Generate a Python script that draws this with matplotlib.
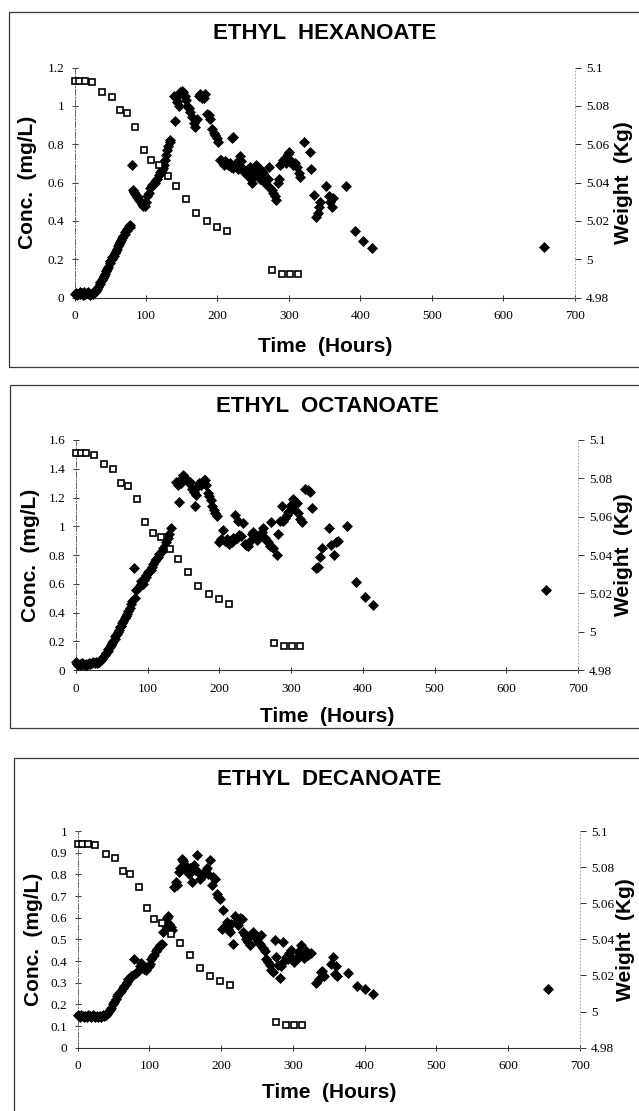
import matplotlib.pyplot as plt
from matplotlib.patches import Rectangle

#%% --- Data ---

# Ethyl hexanoate concentration (mg/L) vs time (hours)
hex_hours = [0, 2, 3, 5, 7, 8, 10, 12, 13, 15, 17, 19, 20, 22, 24, 26,
             28, 30, 31, 33, 35, 36, 38, 40, 41, 43, 44, 46, 47, 49, 50, 52, 53,
             55, 56, 58, 59, 61, 62, 64, 65, 67, 68, 70, 71, 73, 74, 76, 77, 78,
             80, 82, 83, 85, 87, 88, 90, 92, 94, 96, 98, 100, 102, 104, 106, 108,
             110, 112, 114, 116, 118, 120, 122, 124, 125, 127, 128, 130, 131, 133, 134,
             139, 141, 142, 144, 146, 148, 150, 152, 154, 156, 158, 160, 162, 164,
             167, 169, 172, 174, 176, 178, 181, 183, 185, 188, 190, 192, 195, 197,
             199, 201, 220, 222,
             203, 205, 207, 209, 211, 213, 215, 217, 219, 222, 224, 226, 229, 231,
             233, 235, 237, 239, 241, 243, 245, 247, 248, 250, 252, 254, 256, 258,
             260, 262, 264, 266, 268, 270, 272, 274, 276, 278, 280, 282, 284, 286,
             288, 290, 292, 294, 296, 298, 300, 302, 304, 306, 308, 311, 314, 316,
             321, 329, 331, 335, 338, 340, 342, 344, 352, 356, 358, 360, 362, 380,
             392, 403, 416, 657]
hex_conc = [0.02, 0.025, 0.015, 0.02, 0.03, 0.02, 0.025, 0.015, 0.03, 0.02, 0.025, 0.03, 0.02, 0.015, 0.025, 0.02,
            0.03, 0.035, 0.045, 0.055, 0.07, 0.08, 0.09, 0.10, 0.11, 0.125, 0.14, 0.15, 0.16, 0.18, 0.19, 0.2, 0.21,
            0.215, 0.23, 0.245, 0.255, 0.27, 0.28, 0.29, 0.30, 0.31, 0.32, 0.33, 0.34, 0.35, 0.36, 0.375, 0.38, 0.37,
            0.69, 0.56, 0.55, 0.54, 0.525, 0.53, 0.51, 0.505, 0.49, 0.48, 0.48, 0.5, 0.53, 0.545, 0.57, 0.585,
            0.59, 0.6, 0.615, 0.62, 0.64, 0.655, 0.665, 0.675, 0.69, 0.72, 0.745, 0.77, 0.79, 0.81, 0.82,
            1.05, 0.92, 1.04, 1.02, 1.0, 1.07, 1.08, 1.07, 1.05, 1.03, 1.0, 0.99, 0.97, 0.94,
            0.91, 0.89, 0.93, 1.05, 1.06, 1.04, 1.04, 1.06, 0.96, 0.95, 0.93, 0.88, 0.86, 0.85,
            0.83, 0.81, 0.83, 0.84,
            0.72, 0.72, 0.70, 0.69, 0.71, 0.70, 0.69, 0.70, 0.68, 0.675, 0.69, 0.70, 0.67, 0.74,
            0.71, 0.67, 0.665, 0.65, 0.64, 0.67, 0.68, 0.62, 0.60, 0.66, 0.65, 0.69, 0.68, 0.63,
            0.62, 0.66, 0.65, 0.60, 0.59, 0.62, 0.68, 0.57, 0.56, 0.545, 0.53, 0.51, 0.60, 0.62,
            0.69, 0.70, 0.72, 0.73, 0.70, 0.75, 0.76, 0.72, 0.70, 0.69, 0.70, 0.68, 0.65, 0.63,
            0.81, 0.76, 0.67, 0.535, 0.42, 0.44, 0.47, 0.50, 0.58, 0.53, 0.50, 0.47, 0.52, 0.58,
            0.345, 0.295, 0.26, 0.265]

# Ethyl octanoate
oct_hours = [0, 2, 3, 5, 7, 8, 10, 12, 14, 16, 18, 20, 22, 24, 26, 28, 30,
             32, 34, 36, 38, 40, 42, 44, 45, 47, 49, 50, 52, 54, 55, 57, 58, 60, 61,
             63, 64, 66, 68, 70, 71, 73, 75, 77, 78,
             81, 82, 84, 86, 88, 90, 91, 93, 95, 97, 98, 100, 102, 104, 106, 108,
             110, 112, 114, 116, 118, 120, 122, 124, 126, 128, 130, 132,
             140, 142, 143, 145, 147, 149, 151, 153, 155, 157, 159, 162, 164, 166,
             168, 170, 172, 174, 176, 178, 180, 182, 184, 186, 188, 190, 192, 194, 196,
             200, 202, 205, 208, 210, 212, 214, 217, 219, 222, 224, 226, 228, 230,
             233, 235, 237, 240, 242, 245, 247, 250, 252, 254, 257, 259, 261, 263,
             266, 268, 271, 272, 275, 280, 282, 285, 287, 289, 292, 294, 296, 299,
             301, 303, 305, 308, 310, 313, 315, 320, 324, 327, 329, 334, 337, 340,
             343, 353, 355, 360, 363, 366, 378, 390, 403, 414, 655]
oct_conc = [0.055, 0.045, 0.04, 0.045, 0.04, 0.05, 0.045, 0.04, 0.045, 0.04, 0.05, 0.045, 0.05, 0.055, 0.05, 0.055, 0.05,
            0.06, 0.065, 0.075, 0.09, 0.105, 0.12, 0.135, 0.145, 0.16, 0.175, 0.19, 0.2, 0.22, 0.24, 0.255, 0.265, 0.28, 0.3,
            0.31, 0.325, 0.34, 0.36, 0.38, 0.39, 0.41, 0.43, 0.46, 0.48,
            0.71, 0.5, 0.56, 0.57, 0.58, 0.6, 0.62, 0.60, 0.63, 0.65, 0.66, 0.68, 0.69, 0.70, 0.72, 0.74,
            0.76, 0.77, 0.79, 0.81, 0.82, 0.83, 0.85, 0.86, 0.89, 0.92, 0.95, 0.99,
            1.31, 1.29, 1.17, 1.32, 1.30, 1.36, 1.34, 1.33, 1.32, 1.30, 1.31, 1.26, 1.24, 1.14,
            1.22, 1.28, 1.30, 1.29, 1.31, 1.32, 1.32, 1.29, 1.23, 1.21, 1.18, 1.14, 1.11, 1.09, 1.07,
            0.89, 0.91, 0.975, 0.90, 0.91, 0.89, 0.88, 0.89, 0.92, 1.08, 0.92, 1.04, 0.94, 0.93,
            1.02, 0.88, 0.87, 0.86, 0.90, 0.95, 0.96, 0.94, 0.905, 0.92, 0.94, 0.96, 0.99, 0.92,
            0.90, 0.89, 0.86, 1.03, 0.85, 0.80, 0.95, 1.04, 1.14, 1.04, 1.06, 1.08, 1.10, 1.14,
            1.12, 1.19, 1.17, 1.16, 1.09, 1.05, 1.03, 1.26, 1.25, 1.24, 1.13, 0.71, 0.72, 0.79,
            0.85, 0.99, 0.87, 0.80, 0.89, 0.90, 1.0, 0.61, 0.51, 0.45, 0.56]

# Ethyl decanoate
dec_hours = [0, 2, 4, 5, 7, 9, 11, 13, 15, 17, 19, 21, 23, 25, 27, 29, 31, 33, 35, 37, 39, 41,
             43, 45, 47, 49, 51, 53, 55, 57, 59, 61, 63, 65, 67, 69, 71, 73, 75, 77, 79, 81,
             83, 85, 87, 89, 91, 93, 96, 99, 101, 103, 105, 107, 109, 111, 113, 115, 117,
             119, 121, 123, 124, 126, 128, 130, 132,
             135, 137, 139, 141, 143, 145, 147, 149, 151, 153, 155, 157, 159, 162, 164,
             166, 168, 171, 173, 175, 178, 180, 182, 185, 187, 189, 191, 194, 196, 198,
             201, 203, 205, 208, 210, 212, 214, 217, 219, 221, 224, 226, 229, 231, 233,
             235, 238, 240, 242, 245, 247, 249, 252, 254, 256, 258, 261, 263, 265, 268,
             270, 273, 275, 277, 279, 282, 284, 286, 288, 291, 293, 295, 298, 300, 302,
             305, 307, 309, 312, 314, 316, 318, 321, 325, 332, 336, 339, 341, 344, 353,
             356, 358, 360, 362, 377, 390, 401, 412, 655]
dec_conc = [0.15, 0.145, 0.14, 0.15, 0.145, 0.14, 0.145, 0.14, 0.15, 0.145, 0.14, 0.15, 0.145, 0.14, 0.145,
            0.14, 0.145, 0.14, 0.15, 0.145, 0.15, 0.155,
            0.165, 0.175, 0.185, 0.2, 0.21, 0.225, 0.24, 0.25, 0.255, 0.26, 0.275, 0.285, 0.295, 0.305, 0.315,
            0.32, 0.33, 0.335, 0.41, 0.345,
            0.35, 0.36, 0.375, 0.39, 0.37, 0.365, 0.36, 0.375, 0.385, 0.41, 0.425, 0.43, 0.445, 0.455, 0.465,
            0.475, 0.48, 0.535, 0.575, 0.56, 0.6, 0.61, 0.57, 0.555, 0.545,
            0.74, 0.765, 0.75, 0.81, 0.83, 0.87, 0.86, 0.845, 0.82, 0.835, 0.8, 0.83, 0.765, 0.845, 0.82,
            0.89, 0.81, 0.78, 0.8, 0.795, 0.81, 0.83, 0.8, 0.865, 0.75, 0.79, 0.78, 0.71, 0.695, 0.685,
            0.55, 0.635, 0.56, 0.58, 0.55, 0.535, 0.57, 0.48, 0.61, 0.58, 0.565, 0.6, 0.595, 0.535, 0.52,
            0.5, 0.49, 0.475, 0.52, 0.535, 0.51, 0.505, 0.49, 0.48, 0.52, 0.46, 0.445, 0.41, 0.395, 0.38,
            0.36, 0.35, 0.495, 0.42, 0.38, 0.32, 0.375, 0.49, 0.4, 0.42, 0.41, 0.435, 0.45, 0.41, 0.395,
            0.41, 0.44, 0.42, 0.475, 0.43, 0.415, 0.445, 0.43, 0.435, 0.30, 0.315, 0.35, 0.355, 0.33, 0.385,
            0.42, 0.34, 0.375, 0.33, 0.345, 0.285, 0.27, 0.25, 0.27]

# Weight of the fermenter (kg), same for the three panels
weight_hours = [0, 6.5, 14, 25, 39, 52, 63, 73, 85, 96.5, 107, 118, 130.5, 142.5,
                156.5, 170, 185, 199, 213, 276, 290, 301.5, 313]
weight_kg = [5.093, 5.093, 5.093, 5.0922, 5.0875, 5.0848, 5.0778, 5.0762, 5.0692, 5.0572,
             5.0515, 5.0492, 5.0432, 5.038, 5.0313, 5.024, 5.0197, 5.017, 5.0145,
             4.9943, 4.9925, 4.9925, 4.9925]

# Axis ticks
time_ticks = [0, 100, 200, 300, 400, 500, 600, 700]
weight_ticks = [4.98, 5.0, 5.02, 5.04, 5.06, 5.08, 5.1]
weight_tick_labels = ["4.98", "5", "5.02", "5.04", "5.06", "5.08", "5.1"]
hex_ticks = [0, 0.2, 0.4, 0.6, 0.8, 1.0, 1.2]
hex_tick_labels = ["0", "0.2", "0.4", "0.6", "0.8", "1", "1.2"]
oct_ticks = [0, 0.2, 0.4, 0.6, 0.8, 1.0, 1.2, 1.4, 1.6]
oct_tick_labels = ["0", "0.2", "0.4", "0.6", "0.8", "1", "1.2", "1.4", "1.6"]
dec_ticks = [0, 0.1, 0.2, 0.3, 0.4, 0.5, 0.6, 0.7, 0.8, 0.9, 1.0]
dec_tick_labels = ["0", "0.1", "0.2", "0.3", "0.4", "0.5", "0.6", "0.7", "0.8", "0.9", "1"]

titles = ["ETHYL  HEXANOATE", "ETHYL  OCTANOATE", "ETHYL  DECANOATE"]

#%% --- Layout (figure fractions) ---

panels = [
    dict(hours=hex_hours, conc=hex_conc, ticks=hex_ticks, labels=hex_tick_labels,
         rect=[0.1166, 0.7322, 0.7832, 0.2070], box=[0.0141, 0.6699, 1.0, 0.3196],
         title_y=0.9694, xlab_y=-0.214, ylab_x=-0.093, y2lab_x=1.097),
    dict(hours=oct_hours, conc=oct_conc, ticks=oct_ticks, labels=oct_tick_labels,
         rect=[0.1189, 0.3967, 0.7856, 0.2073], box=[0.0157, 0.3447, 1.0, 0.3088],
         title_y=0.634, xlab_y=-0.2015, ylab_x=-0.0906, y2lab_x=1.0906),
    dict(hours=dec_hours, conc=dec_conc, ticks=dec_ticks, labels=dec_tick_labels,
         rect=[0.1213, 0.0570, 0.7864, 0.1950], box=[0.022, -0.02, 1.0, 0.3375],
         title_y=0.298, xlab_y=-0.209, ylab_x=-0.0866, y2lab_x=1.0896),
]

plt.rcParams["font.family"] = "Liberation Serif"
bold_font = dict(family="Liberation Sans", weight="bold")

fig = plt.figure(figsize=(6.39, 11.11), dpi=100)

for title, p in zip(titles, panels):

    # --- panel frame ---
    fig.add_artist(Rectangle((p["box"][0], p["box"][1]), p["box"][2], p["box"][3],
                             transform=fig.transFigure, fill=False,
                             edgecolor="#3a3a3a", linewidth=0.9))

    ax = fig.add_axes(p["rect"])
    ax2 = ax.twinx()

    # --- concentration (filled diamonds) ---
    ax.plot(p["hours"], p["conc"], linestyle="none", marker="D", markersize=4.9,
            color="black", markeredgewidth=0.5, clip_on=False, zorder=3)

    # --- weight (open squares) ---
    ax2.plot(weight_hours, weight_kg, linestyle="none", marker="s", markersize=4.1,
             markerfacecolor="white", markeredgecolor="black", markeredgewidth=1.2,
             clip_on=False, zorder=4)

    ax.set_xlim(0, 700)
    ax.set_ylim(p["ticks"][0], p["ticks"][-1])
    ax2.set_ylim(4.98, 5.1)

    # --- ticks ---
    ax.set_xticks(time_ticks)
    ax.set_xticklabels([str(t) for t in time_ticks])
    ax.set_yticks(p["ticks"])
    ax.set_yticklabels(p["labels"])
    ax2.set_yticks(weight_ticks)
    ax2.set_yticklabels(weight_tick_labels)

    ax.tick_params(axis="x", direction="inout", length=4, width=0.7, pad=7,
                   labelsize=9.5, color="#333333")
    ax.tick_params(axis="y", direction="inout", length=5, width=0.7, pad=5,
                   labelsize=9.5, color="#333333")
    ax2.tick_params(axis="y", direction="out", length=4, width=0.7, pad=4,
                    labelsize=9.5, color="#333333")

    # --- spines ---
    for a in [ax, ax2]:
        a.spines["top"].set_visible(False)
    ax.spines["right"].set_visible(False)
    ax2.spines["left"].set_visible(False)
    ax2.spines["bottom"].set_visible(False)
    ax.spines["left"].set_linestyle((0, (6, 2, 1, 2)))
    ax.spines["left"].set_linewidth(0.7)
    ax.spines["left"].set_color("#666666")
    ax.spines["bottom"].set_linewidth(0.8)
    ax.spines["bottom"].set_color("#333333")
    ax2.spines["right"].set_linestyle((0, (1, 3)))
    ax2.spines["right"].set_linewidth(0.6)
    ax2.spines["right"].set_color("#999999")

    # --- text ---
    cx = p["rect"][0] + p["rect"][2] / 2
    fig.text(cx, p["title_y"], title, ha="center", va="center", fontsize=16, **bold_font)

    ax.set_xlabel("Time  (Hours)", fontsize=15, va="center", **bold_font)
    ax.xaxis.set_label_coords(0.5, p["xlab_y"])
    ax.set_ylabel("Conc.  (mg/L)", fontsize=15, va="center", **bold_font)
    ax.yaxis.set_label_coords(p["ylab_x"], 0.5)
    ax2.set_ylabel("Weight  (Kg)", fontsize=15, va="center", **bold_font)
    ax2.yaxis.set_label_coords(p["y2lab_x"], 0.5)

fig.savefig("out.png", dpi=100, facecolor="white")
